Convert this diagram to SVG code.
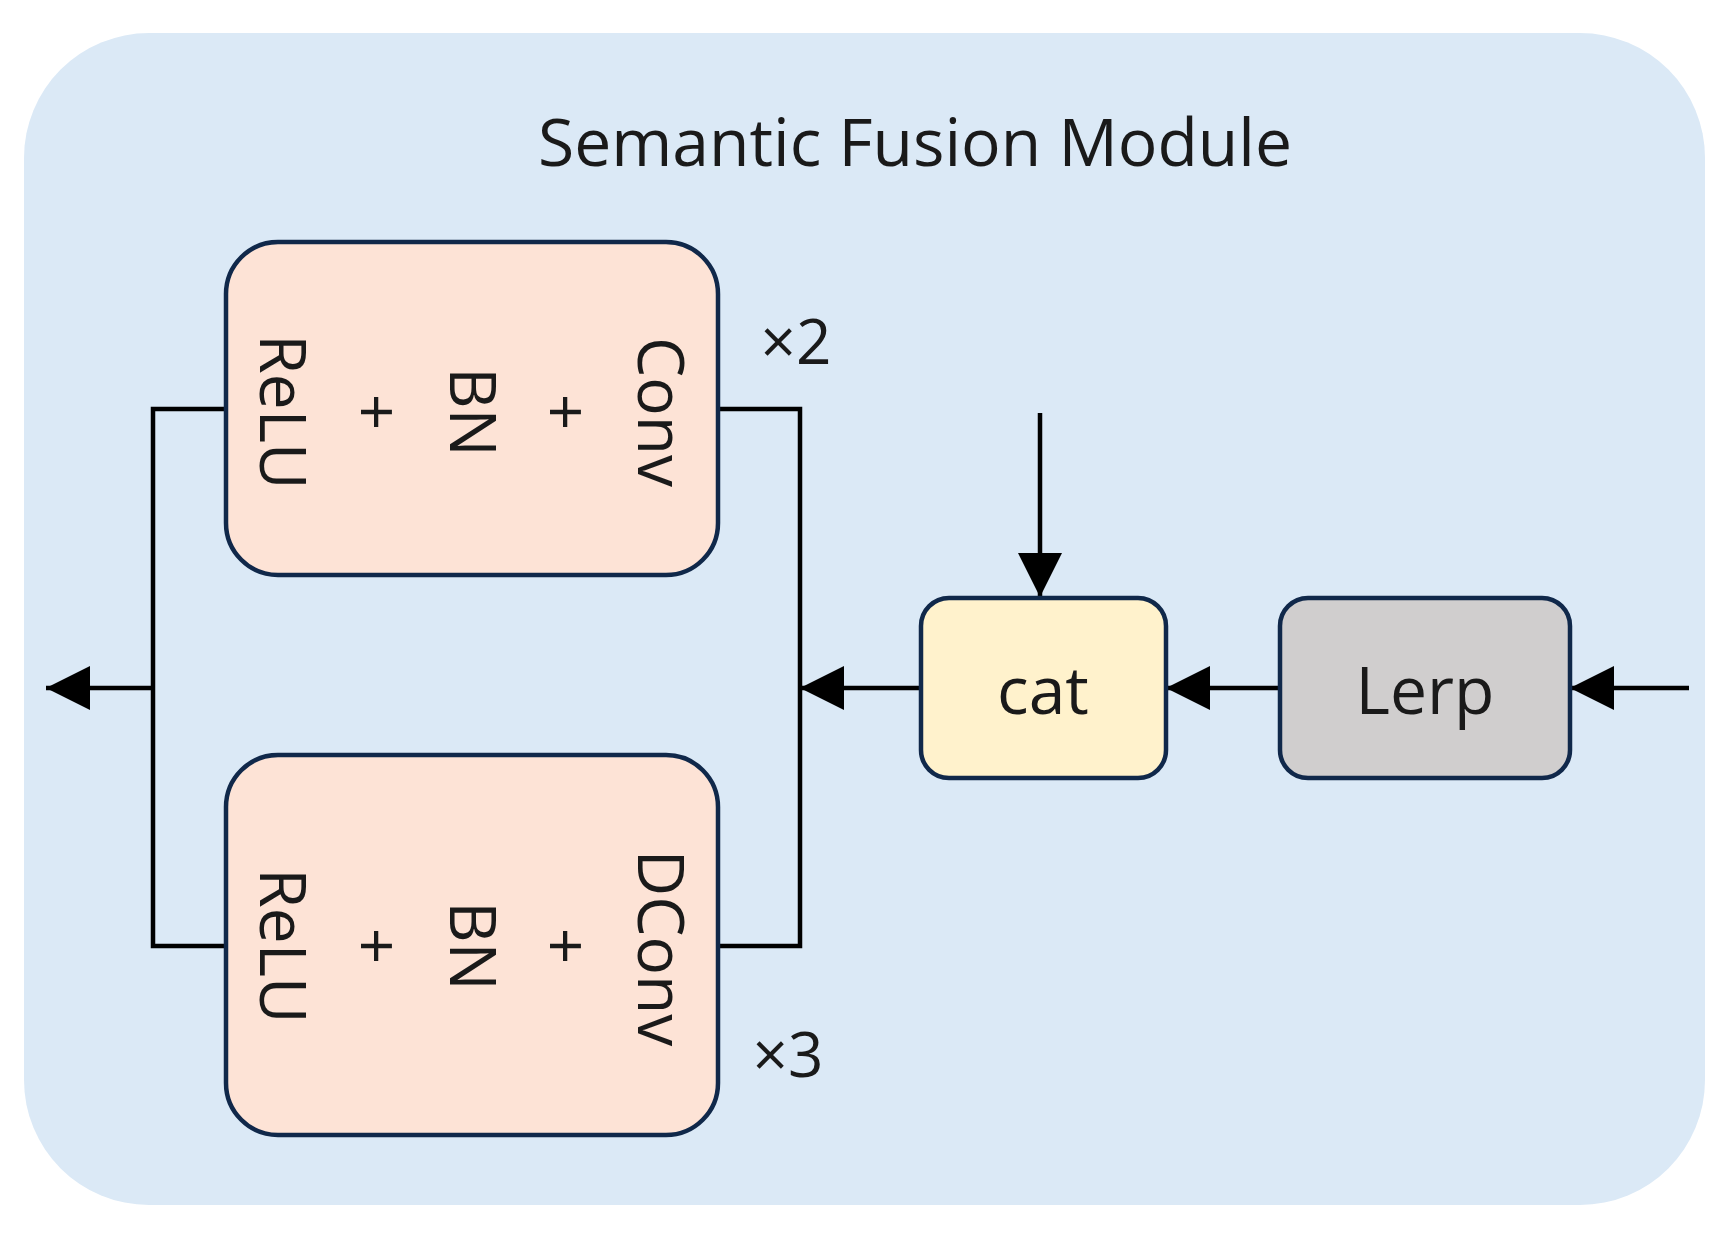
<svg xmlns="http://www.w3.org/2000/svg" width="1719" height="1233" viewBox="0 0 1719 1233">
<style>
.box{stroke:#10284a;stroke-width:4.5}
.t{font-family:"Open Sans","Liberation Sans",sans-serif;fill:#1a1a1a;text-anchor:middle;dominant-baseline:central}
.ln{stroke:#000;stroke-width:4.5;fill:none}
</style>
<defs><marker id="ah" markerWidth="10" markerHeight="10" refX="9" refY="5" orient="auto" markerUnits="userSpaceOnUse" viewBox="0 0 10 10"><path d="M0,0 L10,5 L0,10z" fill="#000"/></marker>
<marker id="a" viewBox="0 0 10 10" refX="10" refY="5" markerWidth="46" markerHeight="44" markerUnits="userSpaceOnUse" orient="auto"><path d="M0,0 L10,5 L0,10z" fill="#000"/></marker></defs>
<rect width="1719" height="1233" fill="#fff"/>
<g id="module"><rect x="24" y="33" width="1681" height="1172" rx="125" fill="#dbe9f6"/>
<text class="t" x="915" y="140" font-size="66">Semantic Fusion Module</text></g>
<g id="connectors">
<polyline class="ln" points="226,409 153,409 153,946 226,946"/>
<polyline class="ln" points="718,409 800,409 800,946 718,946"/>
<line class="ln" x1="153" y1="688" x2="46" y2="688" marker-end="url(#a)"/>
<line class="ln" x1="921" y1="688" x2="800" y2="688" marker-end="url(#a)"/>
<line class="ln" x1="1280" y1="688" x2="1166" y2="688" marker-end="url(#a)"/>
<line class="ln" x1="1689" y1="688" x2="1570" y2="688" marker-end="url(#a)"/>
<line class="ln" x1="1040" y1="413" x2="1040" y2="597" marker-end="url(#a)"/>
</g>
<g id="convbox"><rect class="box" x="226" y="242" width="492" height="333" rx="52" fill="#fde3d6"/>
<g class="t" font-size="64">
<text class="t" transform="translate(662,412) rotate(90)">Conv</text>
<text class="t" transform="translate(567,412) rotate(90)">+</text>
<text class="t" transform="translate(474,412) rotate(90)">BN</text>
<text class="t" transform="translate(378,412) rotate(90)">+</text>
<text class="t" transform="translate(284,412) rotate(90)">ReLU</text></g>
<text class="t" x="796" y="340" font-size="62">×2</text></g>
<g id="dconvbox"><rect class="box" x="226" y="755" width="492" height="380" rx="52" fill="#fde3d6"/>
<g font-size="64">
<text class="t" transform="translate(662,948) rotate(90)">DConv</text>
<text class="t" transform="translate(567,946) rotate(90)">+</text>
<text class="t" transform="translate(474,946) rotate(90)">BN</text>
<text class="t" transform="translate(378,946) rotate(90)">+</text>
<text class="t" transform="translate(284,946) rotate(90)">ReLU</text></g>
<text class="t" x="788" y="1053" font-size="62">×3</text></g>
<g id="cat"><rect class="box" x="921" y="598" width="245" height="180" rx="28" fill="#fff2cc"/>
<text class="t" x="1043" y="688" font-size="66">cat</text></g>
<g id="lerp"><rect class="box" x="1280" y="598" width="290" height="180" rx="28" fill="#d0cece"/>
<text class="t" x="1425" y="688" font-size="66">Lerp</text></g>
</svg>
